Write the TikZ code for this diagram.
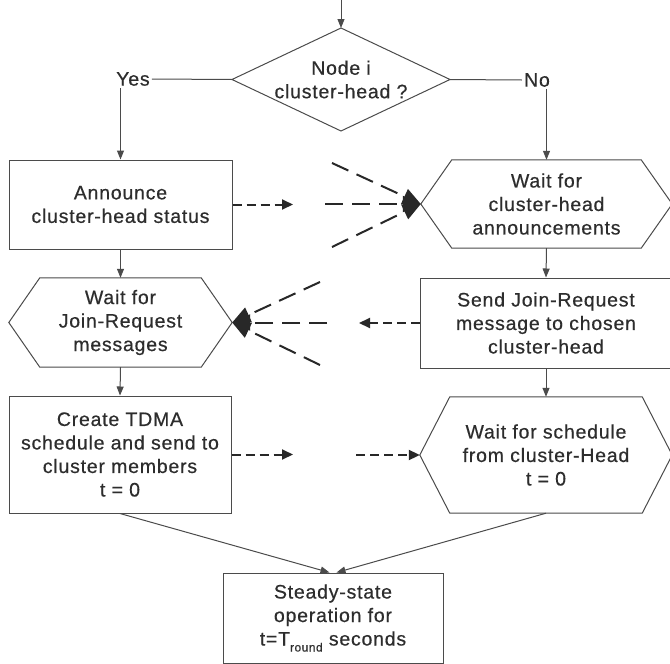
\documentclass[tikz,border=0pt]{standalone}
\usepackage{fontspec}
\setmainfont{Liberation Sans}[LetterSpace=4, FakeBold=0.5]
\usetikzlibrary{arrows.meta,calc}
\definecolor{ink}{RGB}{75,75,75}
\definecolor{dink}{RGB}{40,40,40}
\definecolor{txt}{RGB}{45,45,45}
\newcommand\hexpath[2]{%
  \draw[lin] (#1.west) -- ([xshift=#2]#1.north west) -- ([xshift=-#2]#1.north east)
    -- (#1.east) -- ([xshift=-#2]#1.south east) -- ([xshift=#2]#1.south west) -- cycle;}
\begin{document}
\begin{tikzpicture}[x=1pt,y=-1pt,
  lin/.style={draw=ink, line width=1pt},
  txtbox/.style={align=center, text=txt, font=\fontsize{19.5}{23.5}\selectfont, inner sep=0pt},
  rbox/.style={txtbox, lin, rectangle},
  hbox/.style={txtbox, rectangle},
  flow/.style={lin, -{Triangle[length=9pt,width=7pt]}},
  sdash/.style={draw=dink, line width=2pt, dash pattern=on 9pt off 5pt, -{Triangle[length=11pt,width=10pt]}},
  ldash/.style={draw=dink, line width=2pt, dash pattern=on 18pt off 9pt, -{Triangle[length=18pt,width=16pt]}},
]
\fill[white] (0,0) rectangle (670,664);
\useasboundingbox (0,0) rectangle (670,664);

% decision
\coordinate (dT) at (341,28);
\coordinate (dL) at (232,79.5);
\coordinate (dR) at (450,79.5);
\coordinate (dB) at (341,131);
\draw[lin] (dT) -- (dR) -- (dB) -- (dL) -- cycle;
\node[txtbox] (dec) at (341,79.5) {Node i\\cluster-head ?};
\coordinate (start) at (341,0);
\draw[flow] (start) -- (dT);

\node[txtbox, inner sep=2pt] (yes) at (133,79) {Yes};
\node[txtbox, inner sep=2pt] (no) at (537,80) {No};
\draw[lin] (dL) -- (yes.east);
\draw[lin] (dR) -- (no.west);

% left column
\node[rbox, minimum width=223pt, minimum height=89pt] (ann) at (120.5,204.5) {Announce\\cluster-head status};
\node[hbox, minimum width=223pt, minimum height=89pt] (wjr) at (120.5,322.5) {Wait for\\Join-Request\\messages};
\hexpath{wjr}{31pt}
\node[rbox, minimum width=222pt, minimum height=117pt] (tdma) at (120,454.5) {Create TDMA\\schedule and send to\\cluster members\\t = 0};

% right column
\node[hbox, minimum width=251pt, minimum height=88pt] (wch) at (546.5,204) {Wait for\\cluster-head\\announcements};
\hexpath{wch}{31pt}
\node[rbox, minimum width=252pt, minimum height=90pt] (sjr) at (546,323) {Send Join-Request\\message to chosen\\cluster-head};
\node[hbox, minimum width=252pt, minimum height=116pt] (wsc) at (546,455) {Wait for schedule\\from cluster-Head\\t = 0};
\hexpath{wsc}{30pt}

% bottom
\node[rbox, minimum width=220pt, minimum height=90pt] (ss) at (333,618) {Steady-state\\operation for\\t=T\raisebox{-6pt}{\fontsize{12}{12}\selectfont round} seconds};

% solid flow
\draw[flow] (ann.north |- yes.south) -- (ann.north);
\draw[flow] (wch.north |- no.south) -- (wch.north);
\draw[flow] (ann.south) -- (wjr.north);
\draw[flow] (wjr.south) -- (tdma.north);
\draw[flow] (wch.south) -- (sjr.north);
\draw[flow] (sjr.south) -- (wsc.north);
\draw[flow] (tdma.south) -- ([xshift=-3.5pt]ss.north);
\draw[flow] (wsc.south) -- ([xshift=3.5pt]ss.north);

% short dashed arrows
\coordinate (a1) at (293,204.5);
\draw[sdash] (ann.east) -- (a1);
\coordinate (a2) at (359,323);
\draw[sdash] (sjr.west) -- (a2);
\coordinate (a3) at (293,454.5);
\draw[sdash] (tdma.east) -- (a3);
\coordinate (a4) at (356,455);
\draw[sdash] (a4) -- (wsc.west);

% fans
\coordinate (f1a) at (332,163);
\coordinate (f1b) at (325,204);
\coordinate (f1c) at (332,247);
\draw[ldash] (f1a) -- (wch.west);
\draw[ldash] (f1b) -- (wch.west);
\draw[ldash] (f1c) -- (wch.west);
\coordinate (f2a) at (320,282);
\coordinate (f2b) at (327,322.5);
\coordinate (f2c) at (320,365);
\draw[ldash] (f2a) -- (wjr.east);
\draw[ldash] (f2b) -- (wjr.east);
\draw[ldash] (f2c) -- (wjr.east);
\end{tikzpicture}
\end{document}
